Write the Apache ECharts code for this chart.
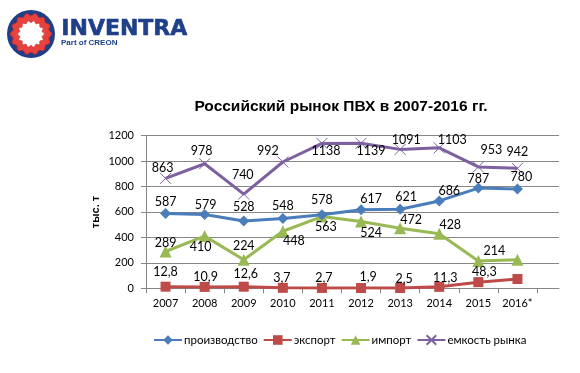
<!DOCTYPE html>
<html>
<head>
<meta charset="utf-8">
<script src="https://cdn.jsdelivr.net/npm/echarts@6/dist/echarts.min.js"></script>
<style>
html,body{margin:0;padding:0;background:#fff;}
#c{width:580px;height:373px;}
</style>
</head>
<body>
<div id="c"></div>
<script>
var years = ['2007','2008','2009','2010','2011','2012','2013','2014','2015','2016*'];
var production = [587, 579, 528, 548, 578, 617, 621, 686, 787, 780];
var exportVals = [12.8, 10.9, 12.6, 3.7, 2.7, 1.9, 2.5, 11.3, 48.3, 73];
var importVals = [289, 410, 224, 448, 563, 524, 472, 428, 214, 224];
var marketVals = [863, 978, 740, 992, 1138, 1139, 1091, 1103, 953, 942];
var exportLabeled = [true, true, true, true, true, true, true, true, true, false];
var importLabeled = [true, true, true, true, true, true, true, true, true, false];
var yTicks = [0, 200, 400, 600, 800, 1000, 1200];

// label offsets (layout only)
var offProd = [[0,-12],[1,-10],[0,-14],[0,-13],[0,-15],[10,-11],[6,-12],[10,-10],[0,-9],[4,-12]];
var offExp = [[0,-15],[1,-10],[2,-13],[-1,-10],[2,-10],[7,-11],[4,-9],[6,-9],[6,-10],[0,0]];
var offImp = [[0,-9],[-4,11],[0,-14],[11,10],[4,10],[10,11],[11,-8],[11,-9],[16,-10],[0,0]];
var offMkt = [[-3,-10],[-3,-13],[-1,-19],[-15,-11],[4,8],[10,8],[6,-9],[13,-8],[13,-17],[0,-16]];

var FONT = 'Lato';
function fmt(v){ return String(v).replace('.', ','); }
function build(vals, offs, shown){
  return vals.map(function(v, i){
    var show = shown ? shown[i] : true;
    return {
      value: v,
      label: {show: show, position: 'inside', offset: offs[i], formatter: fmt(v),
              color: '#000', fontSize: 12.5, fontFamily: FONT}
    };
  });
}

function wavy(cx, cy, r, amp, n, steps){
  var pts = [];
  for (var k = 0; k < steps; k++){
    var a = k / steps * Math.PI * 2;
    var rr = r + amp * Math.cos(a * n);
    pts.push([cx + rr * Math.cos(a), cy + rr * Math.sin(a)]);
  }
  return pts;
}

var chart = echarts.init(document.getElementById('c'), null, {renderer: 'canvas'});
var yMin = yTicks[0], yMax = yTicks[yTicks.length-1], yInt = yTicks[1]-yTicks[0];
var GRID = {top: 135.5, height: 152.8};

var option = {
  backgroundColor: '#fff',
  animation: false,
  textStyle: {fontFamily: FONT},
  title: {
    text: 'Российский рынок ПВХ в 2007-2016 гг.',
    left: 336, top: 94, textAlign: 'center',
    textStyle: {fontFamily: 'Liberation Sans', fontWeight: 'bold', fontSize: 15.5, color: '#000'}
  },
  graphic: [
    {type: 'circle', shape: {cx: 31, cy: 34, r: 24}, style: {fill: '#1f3f88'}},
    {type: 'polygon', shape: {points: wavy(31, 34, 19.5, 1.2, 14, 280)}, style: {fill: '#e8423f', stroke: '#c22f2f', lineWidth: 1}},
    {type: 'polygon', shape: {points: wavy(31, 34, 12.5, 1.0, 14, 280)}, style: {fill: '#ffffff', stroke: '#d23a3a', lineWidth: 1}},
    {type: 'text', left: 61, top: 18, style: {text: 'INVENTRA', fill: '#1f3f88', font: '900 22px "DejaVu Sans"', stroke: '#1f3f88', lineWidth: 0.6}},
    {type: 'text', left: 61, top: 39, style: {text: 'Part of CREON', fill: '#1f3f88', font: 'bold 8px "Liberation Sans"'}},
    {type: 'text', rotation: Math.PI/2, x: 96, y: 212, style: {text: 'тыс. т', fill: '#000', font: 'bold 11px "Liberation Sans"', align: 'center', verticalAlign: 'middle'}}
  ],
  legend: {
    left: 153, top: 334, padding: 0,
    itemWidth: 28, itemHeight: 12, itemGap: 5,
    textStyle: {fontFamily: FONT, fontSize: 11.5, color: '#000', padding: [0,0,0,-3]},
    data: ['производство', 'экспорт', 'импорт', 'емкость рынка']
  },
  grid: [
    {left: 146, top: GRID.top, width: 391, height: GRID.height},
    {left: 146, top: GRID.top, width: 413, height: GRID.height}
  ],
  xAxis: [
    {
      type: 'category', gridIndex: 0, data: years, boundaryGap: true,
      axisLine: {show: true, lineStyle: {color: '#868686', width: 1}},
      axisTick: {show: true, inside: false, length: 5, lineStyle: {color: '#868686'}},
      axisLabel: {fontFamily: FONT, fontSize: 11, color: '#000', margin: 10, interval: 0},
      splitLine: {show: false}
    },
    {
      type: 'value', gridIndex: 1, min: 0, max: 1,
      axisLine: {show: true, lineStyle: {color: '#868686', width: 1}},
      axisTick: {show: false}, axisLabel: {show: false}, splitLine: {show: false}
    }
  ],
  yAxis: [
    {
      type: 'value', gridIndex: 0, min: yMin, max: yMax, interval: yInt,
      axisLine: {show: true, lineStyle: {color: '#868686', width: 1}},
      axisTick: {show: true, inside: false, length: 5, lineStyle: {color: '#868686'}},
      axisLabel: {fontFamily: FONT, fontSize: 11, color: '#000', margin: 12,
                  formatter: function(v){ return String(v); }},
      splitLine: {show: false}
    },
    {
      type: 'value', gridIndex: 1, min: yMin, max: yMax, interval: yInt,
      axisLine: {show: false}, axisTick: {show: false}, axisLabel: {show: false},
      splitLine: {show: true, lineStyle: {color: '#868686', width: 1}}
    }
  ],
  series: [
    {
      name: 'производство', type: 'line', xAxisIndex: 0, yAxisIndex: 0, z: 5,
      data: build(production, offProd),
      symbol: 'diamond', symbolSize: 11,
      itemStyle: {color: '#4a7ebb'}, lineStyle: {color: '#4a7ebb', width: 3}
    },
    {
      name: 'экспорт', type: 'line', xAxisIndex: 0, yAxisIndex: 0, z: 4,
      data: build(exportVals, offExp, exportLabeled),
      symbol: 'rect', symbolSize: 10,
      itemStyle: {color: '#be4b48'}, lineStyle: {color: '#be4b48', width: 3}
    },
    {
      name: 'импорт', type: 'line', xAxisIndex: 0, yAxisIndex: 0, z: 3,
      data: build(importVals, offImp, importLabeled),
      symbol: 'triangle', symbolSize: 12,
      itemStyle: {color: '#98b954'}, lineStyle: {color: '#98b954', width: 3}
    },
    {
      name: 'емкость рынка', type: 'line', xAxisIndex: 0, yAxisIndex: 0, z: 2,
      data: build(marketVals, offMkt),
      symbol: 'path://M0,0L10,10M10,0L0,10', symbolSize: 11,
      itemStyle: {color: '#7d60a0', borderColor: '#7d60a0', borderWidth: 1},
      lineStyle: {color: '#7d60a0', width: 3}
    }
  ]
};
chart.setOption(option);
</script>
</body>
</html>
